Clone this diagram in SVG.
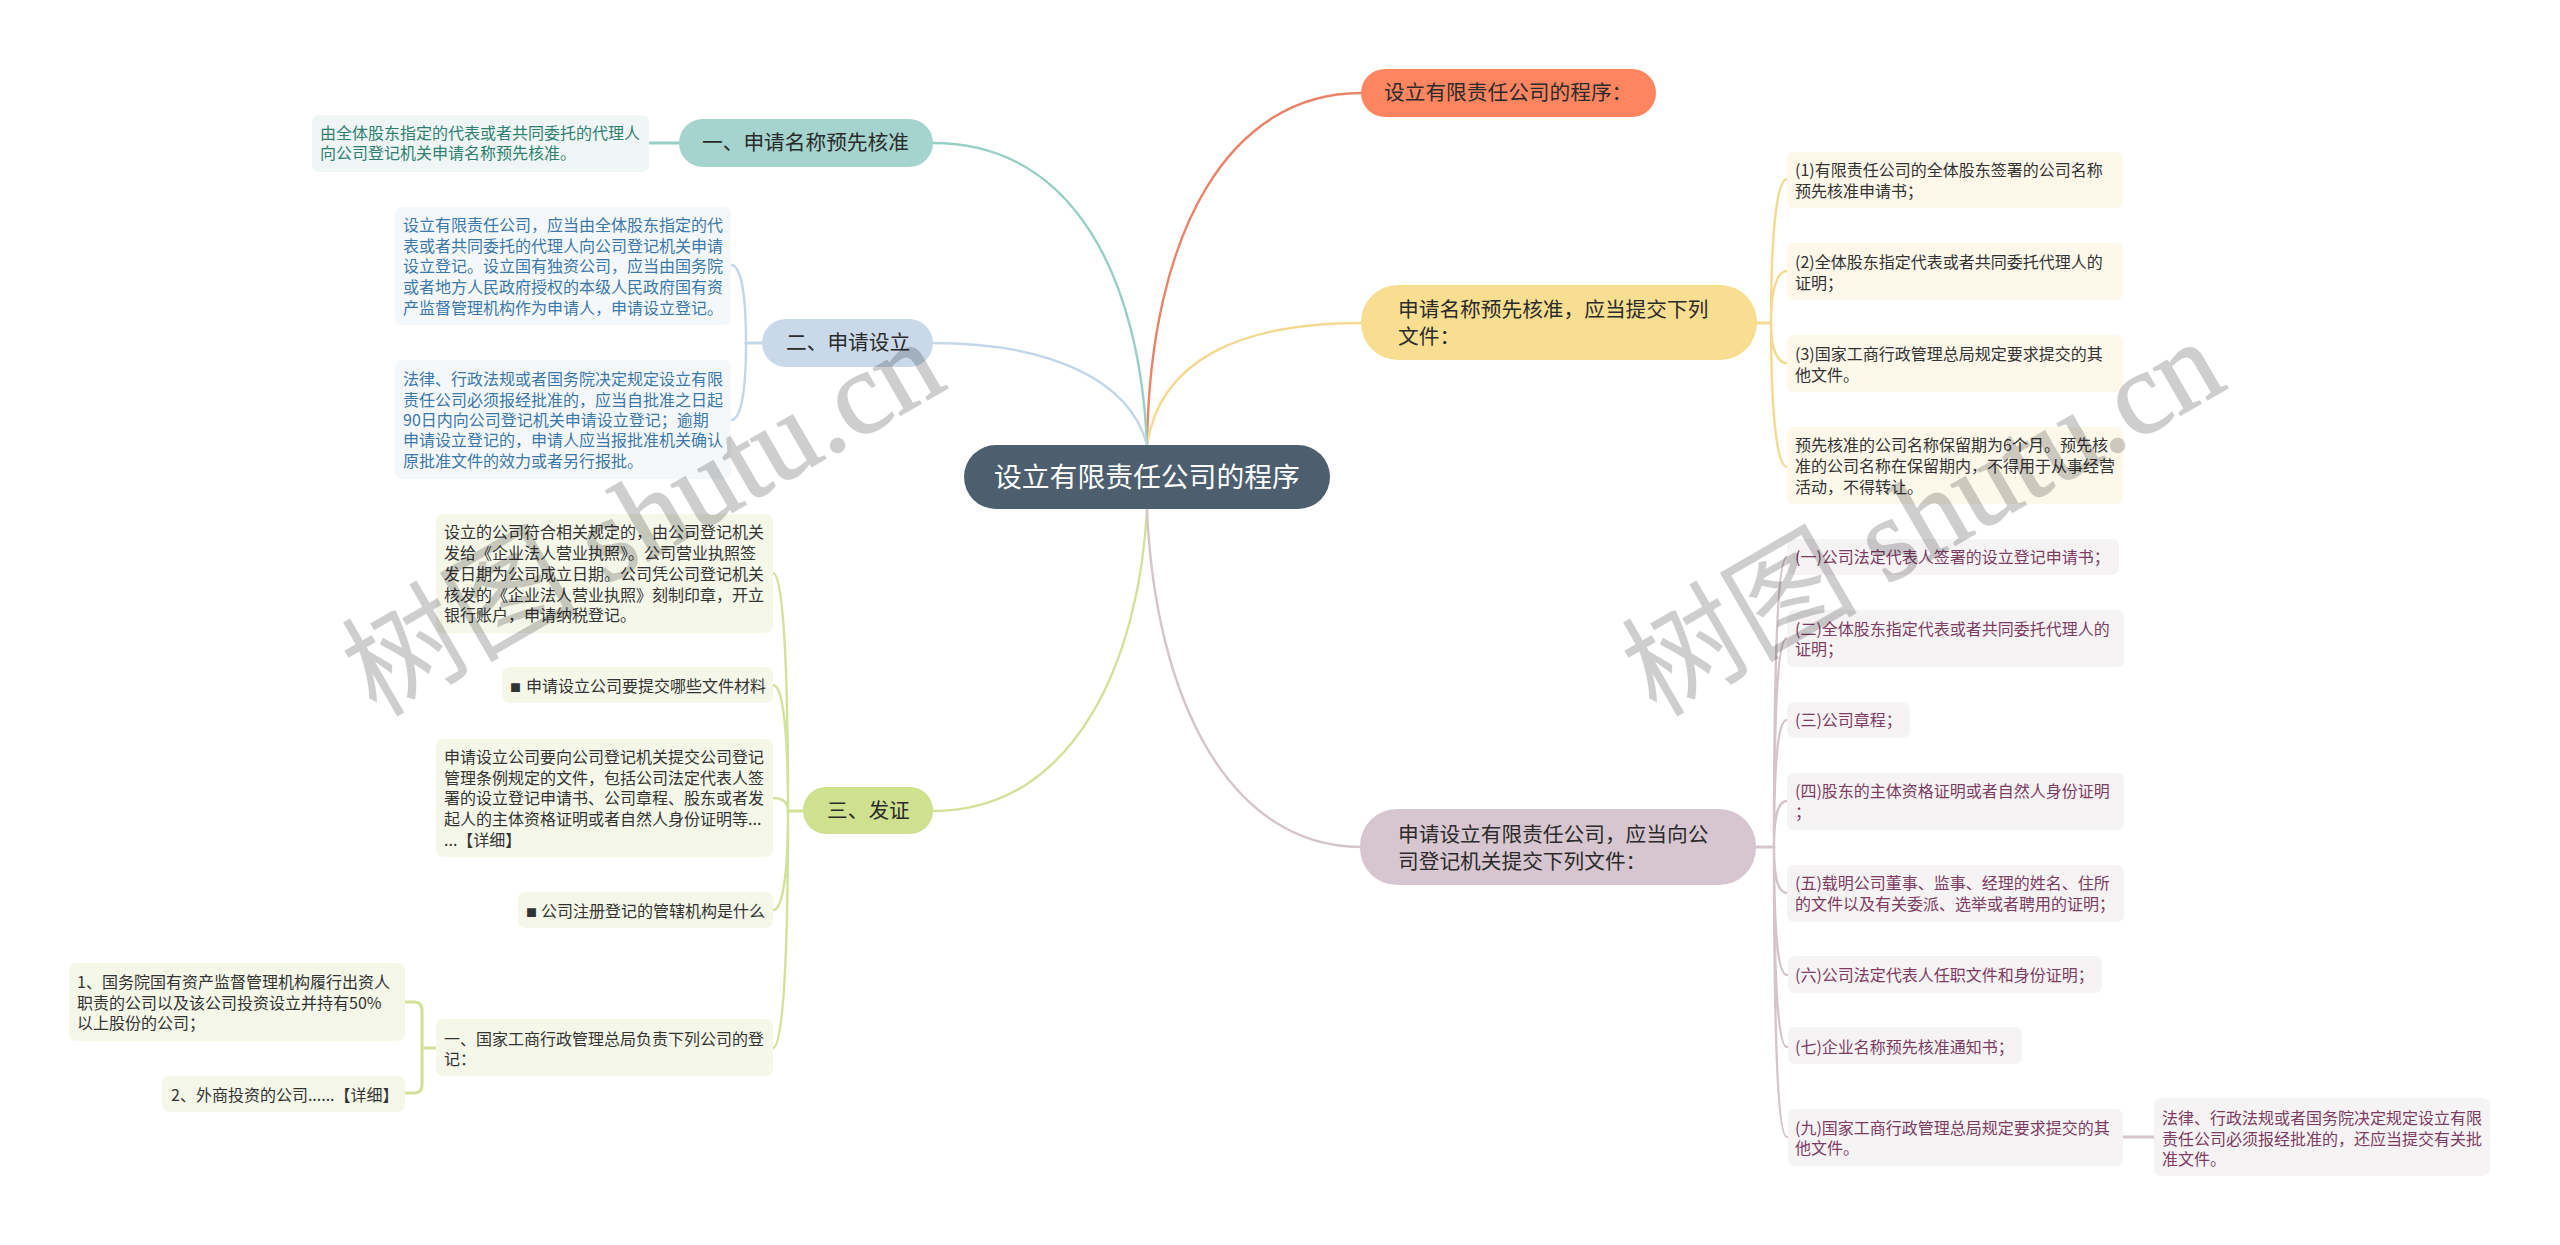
<svg xmlns="http://www.w3.org/2000/svg" width="2560" height="1245" viewBox="0 0 2560 1245">
<style>
text{font-family:"Noto Sans CJK SC","Noto Sans",sans-serif;fill:#333}
.l{font-size:16px}
.p{font-size:20.7px;fill:#2b2b2b}
.c{fill:none;stroke-width:2.4;stroke-linecap:round}
.s{stroke-width:3.2}
.teal{stroke:#98cfc5}.blue{stroke:#c4d7e8}.lime{stroke:#d2e29a}.yel{stroke:#f4da90}.pur{stroke:#d4c4cc}.ora{stroke:#e9846a}
.tl{fill:#2f8070}.bl{fill:#3c78aa}.pl{fill:#7d3c62}
.wm{font-family:"Liberation Serif","Noto Sans CJK SC",serif;font-size:118px;fill:#000;stroke:#000;stroke-width:1.6;opacity:.19}
.wm .cjk{stroke-width:0}
.sq{font-size:11px}
</style>
<rect width="2560" height="1245" fill="#fff"/>
<g id="connectors">
<path class="c ora" d="M1147 445C1150 230 1230 93 1361 93"/>
<path class="c yel" d="M1147 445C1160 360 1240 323 1361 323"/>
<path class="c teal" d="M933 143C1075 143 1140 280 1147 445"/>
<path class="c blue" d="M933 343C1050 343 1130 380 1147 445"/>
<path class="c lime" d="M933 811C1080 811 1140 650 1147 509"/>
<path class="c pur" d="M1147 509C1155 700 1230 847 1361 847"/>
<path class="c s teal" d="M649 143H679"/>
<path class="c s blue" d="M762 343H746"/>
<path class="c blue" d="M731 265C739 265 746 285 746 343M731 420C739 420 746 401 746 343"/>
<path class="c s lime" d="M803 811H788"/>
<path class="c lime" d="M773 573C781 573 788 632 788 811M773 685C781 685 788 716 788 811M773 798C781 798 788 801 788 811M773 910C781 910 788 885 788 811M773 1048C781 1048 788 989 788 811"/>
<path class="c s lime" d="M436 1048H422M405 1002H414Q422 1002 422 1010V1085Q422 1093 414 1093H405"/>
<path class="c s yel" d="M1757 323H1771"/>
<path class="c yel" d="M1787 179C1779 179 1771 215 1771 323M1787 271C1779 271 1771 284 1771 323M1787 363C1779 363 1771 353 1771 323M1787 467C1779 467 1771 431 1771 323"/>
<path class="c s pur" d="M1757 847H1774"/>
<path class="c pur" d="M1787 557C1779 557 1774 630 1774 847M1787 638C1779 638 1774 690 1774 847M1787 720C1779 720 1774 752 1774 847M1787 801C1779 801 1774 812 1774 847M1787 893C1779 893 1774 882 1774 847M1787 975C1779 975 1774 943 1774 847M1787 1047C1779 1047 1774 997 1774 847M1787 1137C1779 1137 1774 1065 1774 847"/>
<path class="c s pur" d="M2123 1137H2154"/>
</g>
<g id="root"><rect x="964" y="445" width="366" height="64" rx="32" fill="#4d5f6e"/><text x="994" y="487" font-size="27.8" style="fill:#fff">设立有限责任公司的程序</text></g>
<g id="b-orange"><rect x="1361" y="69" width="295" height="48" rx="24" fill="#ff8560"/><text class="p" x="1384" y="100">设立有限责任公司的程序：</text></g>
<g id="b-yellow"><rect x="1361" y="285" width="396" height="75" rx="37" fill="#f8de90"/><text class="p" x="1398" y="317">申请名称预先核准，应当提交下列</text><text class="p" x="1398" y="344">文件：</text></g>
<g id="b-purple"><rect x="1360" y="809" width="396" height="76" rx="37" fill="#d7c6cf"/><text class="p" x="1398" y="842">申请设立有限责任公司，应当向公</text><text class="p" x="1398" y="869">司登记机关提交下列文件：</text></g>
<g id="b-teal"><rect x="679" y="119" width="254" height="48" rx="24" fill="#a5d3cd"/><text class="p" x="702" y="150">一、申请名称预先核准</text></g>
<g id="b-blue"><rect x="762" y="319" width="171" height="48" rx="24" fill="#c9d9ea"/><text class="p" x="786" y="350">二、申请设立</text></g>
<g id="b-lime"><rect x="803" y="787" width="130" height="47" rx="23" fill="#cfe08f"/><text class="p" x="827" y="818">三、发证</text></g>

<g id="t1"><rect x="312" y="115" width="337" height="57" rx="7" fill="#eff6f5"/><text class="l tl" x="320" y="139">由全体股东指定的代表或者共同委托的代理人</text><text class="l tl" x="320" y="159">向公司登记机关申请名称预先核准。</text></g>
<g id="bl1"><rect x="395" y="207" width="336" height="118" rx="7" fill="#f5f8fb"/>
<text class="l bl" x="403" y="231">设立有限责任公司，应当由全体股东指定的代</text><text class="l bl" x="403" y="252">表或者共同委托的代理人向公司登记机关申请</text><text class="l bl" x="403" y="272">设立登记。设立国有独资公司，应当由国务院</text><text class="l bl" x="403" y="293">或者地方人民政府授权的本级人民政府国有资</text><text class="l bl" x="403" y="314">产监督管理机构作为申请人，申请设立登记。</text></g>
<g id="bl2"><rect x="395" y="360" width="336" height="119" rx="7" fill="#f5f8fb"/>
<text class="l bl" x="403" y="385">法律、行政法规或者国务院决定规定设立有限</text><text class="l bl" x="403" y="406">责任公司必须报经批准的，应当自批准之日起</text><text class="l bl" x="403" y="426">90日内向公司登记机关申请设立登记；逾期</text><text class="l bl" x="403" y="446">申请设立登记的，申请人应当报批准机关确认</text><text class="l bl" x="403" y="467">原批准文件的效力或者另行报批。</text></g>
<g id="li1"><rect x="436" y="514" width="337" height="119" rx="7" fill="#f5f7e9"/>
<text class="l" x="444" y="538">设立的公司符合相关规定的，由公司登记机关</text><text class="l" x="444" y="559">发给《企业法人营业执照》。公司营业执照签</text><text class="l" x="444" y="580">发日期为公司成立日期。公司凭公司登记机关</text><text class="l" x="444" y="601">核发的《企业法人营业执照》刻制印章，开立</text><text class="l" x="444" y="621">银行账户，申请纳税登记。</text></g>
<g id="li2"><rect x="502" y="667" width="271" height="36" rx="7" fill="#f5f7e9"/><text class="l" x="510" y="692"><tspan class="sq">■ </tspan><tspan x="526">申请设立公司要提交哪些文件材料</tspan></text></g>
<g id="li3"><rect x="436" y="739" width="337" height="118" rx="7" fill="#f5f7e9"/>
<text class="l" x="444" y="763">申请设立公司要向公司登记机关提交公司登记</text><text class="l" x="444" y="784">管理条例规定的文件，包括公司法定代表人签</text><text class="l" x="444" y="804">署的设立登记申请书、公司章程、股东或者发</text><text class="l" x="444" y="825">起人的主体资格证明或者自然人身份证明等...</text><text class="l" x="444" y="846">...【详细】</text></g>
<g id="li4"><rect x="518" y="892" width="255" height="36" rx="7" fill="#f5f7e9"/><text class="l" x="526" y="917"><tspan class="sq">■ </tspan><tspan x="541">公司注册登记的管辖机构是什么</tspan></text></g>
<g id="li5"><rect x="436" y="1019" width="337" height="57" rx="7" fill="#f5f7e9"/><text class="l" x="444" y="1045">一、国家工商行政管理总局负责下列公司的登</text><text class="l" x="444" y="1065">记：</text></g>
<g id="li6"><rect x="69" y="963" width="336" height="78" rx="7" fill="#f5f7e9"/><text class="l" x="77" y="988">1、国务院国有资产监督管理机构履行出资人</text><text class="l" x="77" y="1009">职责的公司以及该公司投资设立并持有50%</text><text class="l" x="77" y="1029">以上股份的公司；</text></g>
<g id="li7"><rect x="162" y="1076" width="243" height="36" rx="7" fill="#f5f7e9"/><text class="l" x="171" y="1101">2、外商投资的公司......【详细】</text></g>

<g id="y1"><rect x="1787" y="152" width="336" height="56" rx="7" fill="#fdf8ea"/><text class="l" x="1795" y="176">(1)有限责任公司的全体股东签署的公司名称</text><text class="l" x="1795" y="197">预先核准申请书；</text></g>
<g id="y2"><rect x="1787" y="243" width="336" height="57" rx="7" fill="#fdf8ea"/><text class="l" x="1795" y="268">(2)全体股东指定代表或者共同委托代理人的</text><text class="l" x="1795" y="289">证明；</text></g>
<g id="y3"><rect x="1787" y="335" width="336" height="57" rx="7" fill="#fdf8ea"/><text class="l" x="1795" y="360">(3)国家工商行政管理总局规定要求提交的其</text><text class="l" x="1795" y="381">他文件。</text></g>
<g id="y4"><rect x="1787" y="427" width="336" height="77" rx="7" fill="#fdf8ea"/><text class="l" x="1795" y="451">预先核准的公司名称保留期为6个月。预先核</text><text class="l" x="1795" y="472">准的公司名称在保留期内，不得用于从事经营</text><text class="l" x="1795" y="493">活动，不得转让。</text></g>

<g id="p1"><rect x="1787" y="539" width="332" height="36" rx="7" fill="#f6f3f5"/><text class="l pl" x="1795" y="563">(一)公司法定代表人签署的设立登记申请书；</text></g>
<g id="p2"><rect x="1787" y="610" width="337" height="57" rx="7" fill="#f6f3f5"/><text class="l pl" x="1795" y="635">(二)全体股东指定代表或者共同委托代理人的</text><text class="l pl" x="1795" y="655">证明；</text></g>
<g id="p3"><rect x="1787" y="702" width="123" height="36" rx="7" fill="#f6f3f5"/><text class="l pl" x="1795" y="726">(三)公司章程；</text></g>
<g id="p4"><rect x="1787" y="773" width="337" height="57" rx="7" fill="#f6f3f5"/><text class="l pl" x="1795" y="797">(四)股东的主体资格证明或者自然人身份证明</text><text class="l pl" x="1795" y="818">；</text></g>
<g id="p5"><rect x="1787" y="865" width="337" height="57" rx="7" fill="#f6f3f5"/><text class="l pl" x="1795" y="889">(五)载明公司董事、监事、经理的姓名、住所</text><text class="l pl" x="1795" y="910">的文件以及有关委派、选举或者聘用的证明；</text></g>
<g id="p6"><rect x="1788" y="956" width="314" height="37" rx="7" fill="#f6f3f5"/><text class="l pl" x="1795" y="981">(六)公司法定代表人任职文件和身份证明；</text></g>
<g id="p7"><rect x="1788" y="1027" width="234" height="37" rx="7" fill="#f6f3f5"/><text class="l pl" x="1795" y="1053">(七)企业名称预先核准通知书；</text></g>
<g id="p8"><rect x="1788" y="1109" width="335" height="57" rx="7" fill="#f6f3f5"/><text class="l pl" x="1795" y="1134">(九)国家工商行政管理总局规定要求提交的其</text><text class="l pl" x="1795" y="1154">他文件。</text></g>
<g id="p9"><rect x="2154" y="1098" width="336" height="78" rx="7" fill="#f6f3f5"/><text class="l pl" x="2162" y="1124">法律、行政法规或者国务院决定规定设立有限</text><text class="l pl" x="2162" y="1145">责任公司必须报经批准的，还应当提交有关批</text><text class="l pl" x="2162" y="1165">准文件。</text></g>

<g id="watermarks">
<text class="wm" transform="translate(376 718) rotate(-30)"><tspan class="cjk">树图</tspan> shutu.cn</text>
<text class="wm" transform="translate(1656 718) rotate(-30)"><tspan class="cjk">树图</tspan> shutu.cn</text>
</g>
</svg>
